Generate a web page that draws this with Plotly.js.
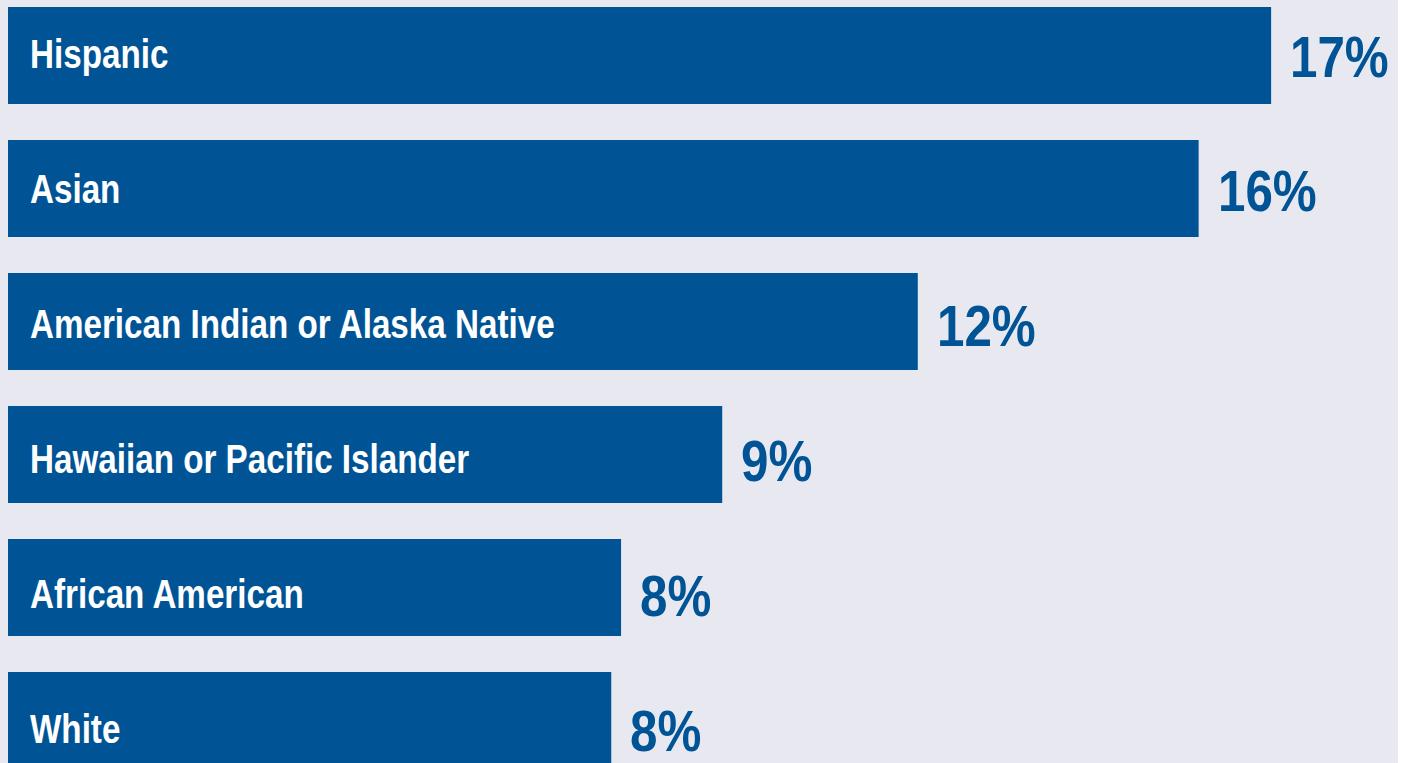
<!DOCTYPE html>
<html>
<head>
<meta charset="utf-8">
<script src="https://cdn.plot.ly/plotly-3.0.1.min.js"></script>
<style>
html,body{margin:0;padding:0;background:#ffffff;}
#chart{width:1403px;height:763px;}
</style>
</head>
<body>
<div id="chart"></div>
<script>
const categories = ["Hispanic", "Asian", "American Indian or Alaska Native", "Hawaiian or Pacific Islander", "African American", "White"];
const values = [16.73, 15.77, 12.05, 9.46, 8.12, 7.99];
const valueLabels = ["17%", "16%", "12%", "9%", "8%", "8%"];

const BLUE = "#005495";
const FONT = "'Liberation Sans', Arial, sans-serif";
const CONDENSE_LABEL = 0.83;
const CONDENSE_VALUE = 0.85;

const trace = {
  type: "bar",
  orientation: "h",
  y: categories,
  x: values,
  width: 0.7293,
  marker: {color: BLUE, line: {width: 0}},
  hoverinfo: "skip"
};

const annotations = [];
categories.forEach((c, i) => {
  annotations.push({
    xref: "x", yref: "y", x: 0, y: c,
    text: "<b>" + c + "</b>",
    showarrow: false, xanchor: "left", yanchor: "middle", align: "left",
    xshift: 21, yshift: -(-1.5 + 1.9 * i),
    borderpad: 0,
    font: {family: FONT, size: 40, color: "#ffffff"}
  });
  annotations.push({
    xref: "x", yref: "y", x: values[i], y: c,
    text: "<b>" + valueLabels[i] + "</b>",
    showarrow: false, xanchor: "left", yanchor: "middle", align: "left",
    xshift: 18, yshift: -(0.5 + 1.8 * i),
    borderpad: 0,
    font: {family: FONT, size: 58, color: BLUE}
  });
});

const layout = {
  width: 1403, height: 763,
  margin: {l: 0, r: 5, t: 0, b: 0, pad: 0},
  paper_bgcolor: "#ffffff",
  plot_bgcolor: "#e8e8f1",
  showlegend: false,
  xaxis: {range: [-8 / 75.5, 1390 / 75.5], visible: false, fixedrange: true},
  yaxis: {type: "category", range: [5.3195, -0.4173], visible: false, fixedrange: true},
  annotations: annotations
};

Plotly.newPlot("chart", [trace], layout, {displayModeBar: false, staticPlot: true}).then(gd => {
  // narrow the letterforms to imitate a condensed typeface (left edge stays fixed)
  gd.querySelectorAll(".annotation-text").forEach(t => {
    const isValue = /%/.test(t.textContent);
    const k = isValue ? CONDENSE_VALUE : CONDENSE_LABEL;
    const w = t.getComputedTextLength();
    const nw = w * k;
    t.setAttribute("lengthAdjust", "spacingAndGlyphs");
    t.setAttribute("textLength", nw.toFixed(1));
    const grp = t.closest(".annotation");
    if (grp) {
      grp.querySelectorAll("rect").forEach(r => {
        const rw = parseFloat(r.getAttribute("width"));
        if (!isNaN(rw)) r.setAttribute("width", Math.max(0, rw - (w - nw)).toFixed(1));
      });
    }
  });
});
</script>
</body>
</html>
